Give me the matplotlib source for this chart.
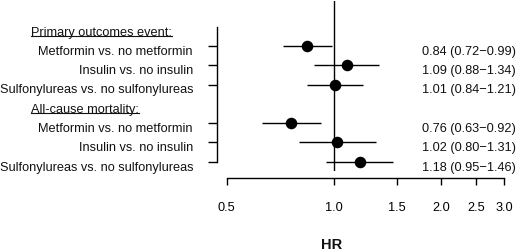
import matplotlib
matplotlib.use("Agg")
import matplotlib.pyplot as plt
import matplotlib.transforms as mtransforms
from matplotlib.lines import Line2D

plt.rcParams["font.family"] = "Liberation Sans"

# forest plot data
headers = ["Primary outcomes event:", "All-cause mortality:"]
labels = ["Metformin vs. no metformin", "Insulin vs. no insulin",
          "Sulfonylureas vs. no sulfonylureas"]
hr_primary = [0.84, 1.09, 1.01]
lo_primary = [0.72, 0.88, 0.84]
hi_primary = [0.99, 1.34, 1.21]
hr_mort = [0.76, 1.02, 1.18]
lo_mort = [0.63, 0.80, 0.95]
hi_mort = [0.92, 1.31, 1.46]
xticks = [0.5, 1.0, 1.5, 2.0, 2.5, 3.0]
xticklabels = ["0.5", "1.0", "1.5", "2.0", "2.5", "3.0"]

W, H = 520, 251
fig = plt.figure(figsize=(W / 100, H / 100), dpi=100)
# axes placed in pixel units
left_px, right_px, top_px, bot_px = 216.7, 504, 2, 172
ax = fig.add_axes([left_px / W, 1 - bot_px / H, (right_px - left_px) / W, (bot_px - top_px) / H])
ax.set_xscale("log")
ax.set_xlim(0.469, 3.0)
ax.set_ylim(7.48, -1.33)
ax.patch.set_alpha(0)

# rows: 0 header, 1-3 primary, 4 header, 5-7 mortality
rows_p = [1, 2, 3]
rows_m = [5, 6, 7]
hr = hr_primary + hr_mort
lo = lo_primary + lo_mort
hi = hi_primary + hi_mort
rows = rows_p + rows_m

ax.axvline(1.0, color="black", lw=1.0)
ax.hlines(rows, lo, hi, color="black", lw=1.0)
ax.plot(hr, rows, "o", color="black", markersize=7.3, zorder=3)

for s in ["top", "right"]:
    ax.spines[s].set_visible(False)
ax.spines["left"].set_bounds(0, 7)
ax.spines["bottom"].set_bounds(0.5, 3.0)
ax.spines["bottom"].set_position(("outward", 5.0))
for s in ["left", "bottom"]:
    ax.spines[s].set_linewidth(1.0)

ax.set_yticks(rows)
ax.set_yticklabels([])
ax.tick_params(axis="y", length=6.3, width=1.0)
ax.set_xticks(xticks)
ax.set_xticklabels(xticklabels)
ax.xaxis.set_minor_locator(matplotlib.ticker.NullLocator())
ax.tick_params(axis="x", length=5.0, width=1.0, pad=11.5, labelsize=9.2)

txt_kw = dict(fontsize=9.2, color="#111111", va="baseline")
lab_tr = mtransforms.blended_transform_factory(fig.transFigure, ax.transData)
off = 0.41
for i, r in enumerate(rows):
    ax.text(193 / W, r + off, (labels * 2)[i], ha="right", transform=lab_tr, **txt_kw)
    ax.text(516 / W, r + off, "%.2f (%.2f\u2212%.2f)" % (hr[i], lo[i], hi[i]),
            ha="right", transform=lab_tr, **txt_kw)

heads = []
for r, h in zip([0, 4], headers):
    heads.append(ax.text(31 / W, r + off, h, ha="left", transform=lab_tr, **txt_kw))

fig.text(331.7 / W, 1 - 245 / H, "HR", fontsize=10.5, fontweight="bold",
         ha="center", va="center", color="#111111")

# underline the headers
fig.canvas.draw()
inv = fig.transFigure.inverted()
for t in heads:
    bb = t.get_window_extent()
    base = t.get_transform().transform(t.get_position())[1] - 1.5
    p0 = inv.transform((bb.x0, base))
    p1 = inv.transform((bb.x1, base))
    fig.add_artist(Line2D([p0[0], p1[0]], [p0[1], p1[1]], color="#111111", lw=0.8,
                          transform=fig.transFigure))

fig.savefig("out.png", dpi=100)
